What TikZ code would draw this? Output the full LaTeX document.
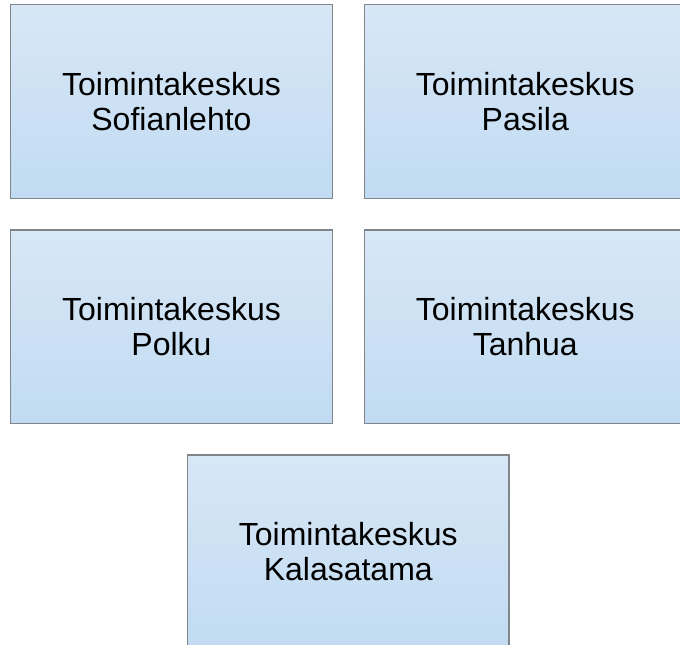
\documentclass[tikz,border=0pt]{standalone}
\usepackage{fontspec}
\setmainfont{Liberation Sans}
\definecolor{boxtop}{HTML}{D8E7F6}
\definecolor{boxbot}{HTML}{C1DBF2}
\definecolor{boxline}{HTML}{808589}
\begin{document}
\begin{tikzpicture}[x=1bp,y=-1bp,
  centerbox/.style={draw=boxline,line width=1.3bp,top color=boxtop,bottom color=boxbot,
    minimum width=321.5bp,minimum height=193.5bp,inner sep=0pt,outer sep=0pt,
    align=center,font=\fontsize{32bp}{34.5bp}\selectfont,text=black,anchor=north west}]
\useasboundingbox (0,0) rectangle (680,645);
\begin{scope}
\clip (0,0) rectangle (680,645);
\node[centerbox] (sof) at (10.7,4.7) {Toimintakeskus\\Sofianlehto};
\node[centerbox] (pas) at (364.5,4.7) {Toimintakeskus\\Pasila};
\node[centerbox] (pol) at (10.7,230) {Toimintakeskus\\Polku};
\node[centerbox] (tan) at (364.5,230) {Toimintakeskus\\Tanhua};
\node[centerbox] (kal) at (187.5,455) {Toimintakeskus\\Kalasatama};
\end{scope}
\end{tikzpicture}
\end{document}
